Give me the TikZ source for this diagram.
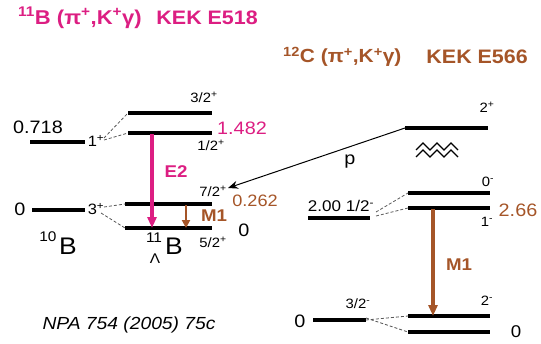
\documentclass[tikz,border=0pt]{standalone}
\usepackage{fontspec}
\setmainfont{Liberation Sans}[FakeStretch=1.1]
\usetikzlibrary{arrows.meta}
\definecolor{mag}{RGB}{220,30,130}
\definecolor{brn}{RGB}{165,85,40}
\begin{document}
\begin{tikzpicture}[x=1pt,y=-1pt,
 lvl/.style={line width=3.3pt},
 dsh/.style={gray!70!black, line width=0.8pt, dash pattern=on 3pt off 2pt},
 lab/.style={font=\fontsize{13.5}{13}\selectfont, inner sep=0pt},
 num/.style={font=\fontsize{18}{18}\selectfont, inner sep=0pt},
 ttl/.style={font=\fontsize{19.5}{19}\selectfont\bfseries, inner sep=0pt},
 gam/.style={line width=3.2pt, -{Triangle[length=11pt,width=9pt]}},
 ]
\useasboundingbox (0,0) rectangle (541,343);
% titles
\node[ttl, text=mag, anchor=west, font=\fontsize{20}{20}\selectfont\bfseries] (t1) at (18,18) {\textsuperscript{11}B (π\textsuperscript{+},K\textsuperscript{+}γ)};
\node[ttl, text=mag, anchor=east] (t1b) at (258,18) {KEK E518};
\node[ttl, text=brn, anchor=west, font=\fontsize{19}{19}\selectfont\bfseries] (t2) at (283,57) {\textsuperscript{12}C (π\textsuperscript{+},K\textsuperscript{+}γ)};
\node[ttl, text=brn, anchor=east] (t2b) at (528,57) {KEK E566};

% 10B levels
\coordinate (b1l) at (30,142); \coordinate (b1r) at (85,142);
\coordinate (b0l) at (32,210); \coordinate (b0r) at (85,210);
\draw[lvl] (b1l) -- (b1r);
\draw[lvl] (b0l) -- (b0r);
\node[num] (n0718) at (38,127) {0.718};
\node[num] (n0a) at (20,209) {0};
\node[num, font=\fontsize{15}{15}\selectfont] (s1) at (96,141) {1\textsuperscript{+}};
\node[num, font=\fontsize{15}{15}\selectfont] (s3) at (96,209) {3\textsuperscript{+}};
\node[inner sep=0pt, font=\fontsize{14}{14}\selectfont] (b10) at (48,237) {10};
\node[inner sep=0pt, font=\fontsize{24}{24}\selectfont] (bB) at (68,246) {B};

% 11LB levels
\coordinate (h3l) at (128,113); \coordinate (h3r) at (212,113);
\coordinate (h1l) at (128,133); \coordinate (h1r) at (212,133);
\coordinate (h7l) at (125,204); \coordinate (h7r) at (212,204);
\coordinate (h5l) at (125,228); \coordinate (h5r) at (212,228);
\draw[lvl] (h3l) -- (h3r);
\draw[lvl] (h1l) -- (h1r);
\draw[lvl] (h7l) -- (h7r);
\draw[lvl] (h5l) -- (h5r);
\node[lab] (l32) at (204,97) {3/2\textsuperscript{+}};
\node[lab] (l12) at (211,145) {1/2\textsuperscript{+}};
\node[lab] (l72) at (213,191) {7/2\textsuperscript{+}};
\node[lab] (l52) at (213,242) {5/2\textsuperscript{+}};
\node[num, text=mag] (e1482) at (242,128) {1.482};
\node[num, text=brn, font=\fontsize{16.5}{16}\selectfont] (e0262) at (255,201) {0.262};
\node[num] (e0b) at (244,230) {0};
\node[inner sep=0pt, font=\fontsize{24}{24}\selectfont] (hB) at (174,246) {B};
\node[inner sep=0pt, font=\fontsize{14}{14}\selectfont] (h11) at (154,238) {11};
\node[inner sep=0pt, font=\fontsize{14}{14}\selectfont] (hL) at (155,259) {Λ};

% dashed links
\coordinate (s1a) at (104,138); \coordinate (s1b) at (104,140);
\coordinate (s3a) at (104,207); \coordinate (s3b) at (101,213);
\draw[dsh] (s1a) -- (h3l);
\draw[dsh] (s1b) -- (h1l);
\draw[dsh] (s3a) -- (h7l);
\draw[dsh] (s3b) -- (h5l);

% gamma transitions
\coordinate (e2t) at (152,134); \coordinate (e2b) at (152,228);
\draw[gam, mag] (e2t) -- (e2b);
\node[num, text=mag, font=\fontsize{17}{17}\selectfont\bfseries] (lE2) at (176,172) {E2};
\coordinate (m1t) at (186,205); \coordinate (m1b) at (186,228);
\draw[line width=2.6pt, brn, -{Triangle[length=8pt,width=8pt]}] (m1t) -- (m1b);
\node[num, text=brn, font=\fontsize{17}{17}\selectfont\bfseries] (lM1a) at (214,216) {M1};

% 12LC levels
\coordinate (c2l) at (405,128); \coordinate (c2r) at (488,128);
\coordinate (c0l) at (408,193); \coordinate (c0r) at (490,193);
\coordinate (c1l) at (408,208); \coordinate (c1r) at (490,208);
\coordinate (cml) at (408,316); \coordinate (cmr) at (490,316);
\coordinate (cgl) at (408,332); \coordinate (cgr) at (490,332);
\draw[lvl] (c2l) -- (c2r);
\draw[lvl] (c0l) -- (c0r);
\draw[lvl] (c1l) -- (c1r);
\draw[lvl] (cml) -- (cmr);
\draw[lvl] (cgl) -- (cgr);
\node[lab] (r2p) at (487,107) {2\textsuperscript{+}};
\node[lab] (r0m) at (488,182) {0\textsuperscript{-}};
\node[lab] (r1m) at (487,222) {1\textsuperscript{-}};
\node[lab] (r2m) at (487,301) {2\textsuperscript{-}};
\node[num, text=brn] (e266) at (518,210) {2.66};
\node[num, font=\fontsize{17}{17}\selectfont] (e0c) at (516,332) {0};

% zigzag
\draw[line width=1.1pt] (416,150) -- ++(7,-7) -- ++(7,7) -- ++(7,-7) -- ++(7,7) -- ++(7,-7) -- ++(7,7);
\draw[line width=1.1pt] (416,157) -- ++(7,-7) -- ++(7,7) -- ++(7,-7) -- ++(7,7) -- ++(7,-7) -- ++(7,7);

% proton emission arrow
\coordinate (ptip) at (228,188);
\draw[line width=1pt, -{Stealth[length=10pt,width=8pt]}] (c2l) -- (ptip);
\node[num] (lp) at (350,162) {p};

% 11C levels
\coordinate (d1l) at (308,218); \coordinate (d1r) at (370,218);
\coordinate (d0l) at (313,320); \coordinate (d0r) at (366,320);
\draw[lvl] (d1l) -- (d1r);
\draw[lvl] (d0l) -- (d0r);
\node[num, font=\fontsize{15.5}{15}\selectfont] (e200) at (341,206) {2.00 1/2\textsuperscript{-}};
\node[lab] (r32) at (358,304) {3/2\textsuperscript{-}};
\node[num] (e0d) at (300,321) {0};
\coordinate (d1a) at (376,212); \coordinate (d1b) at (376,216);
\draw[dsh] (d1a) -- (c0l);
\draw[dsh] (d1b) -- (c1l);
\draw[dsh] (d0r) -- (cml);
\draw[dsh] ([yshift=2pt]d0r) -- (cgl);

% M1 in 12LC
\coordinate (m2t) at (433,209); \coordinate (m2b) at (433,316);
\draw[gam, brn] (m2t) -- (m2b);
\node[num, text=brn, font=\fontsize{17}{17}\selectfont\bfseries] (lM1b) at (459,265) {M1};

% reference
\node[inner sep=0pt, font=\fontsize{17.5}{17}\selectfont\itshape] (ref) at (129,325) {NPA 754 (2005) 75c};
\end{tikzpicture}
\end{document}
